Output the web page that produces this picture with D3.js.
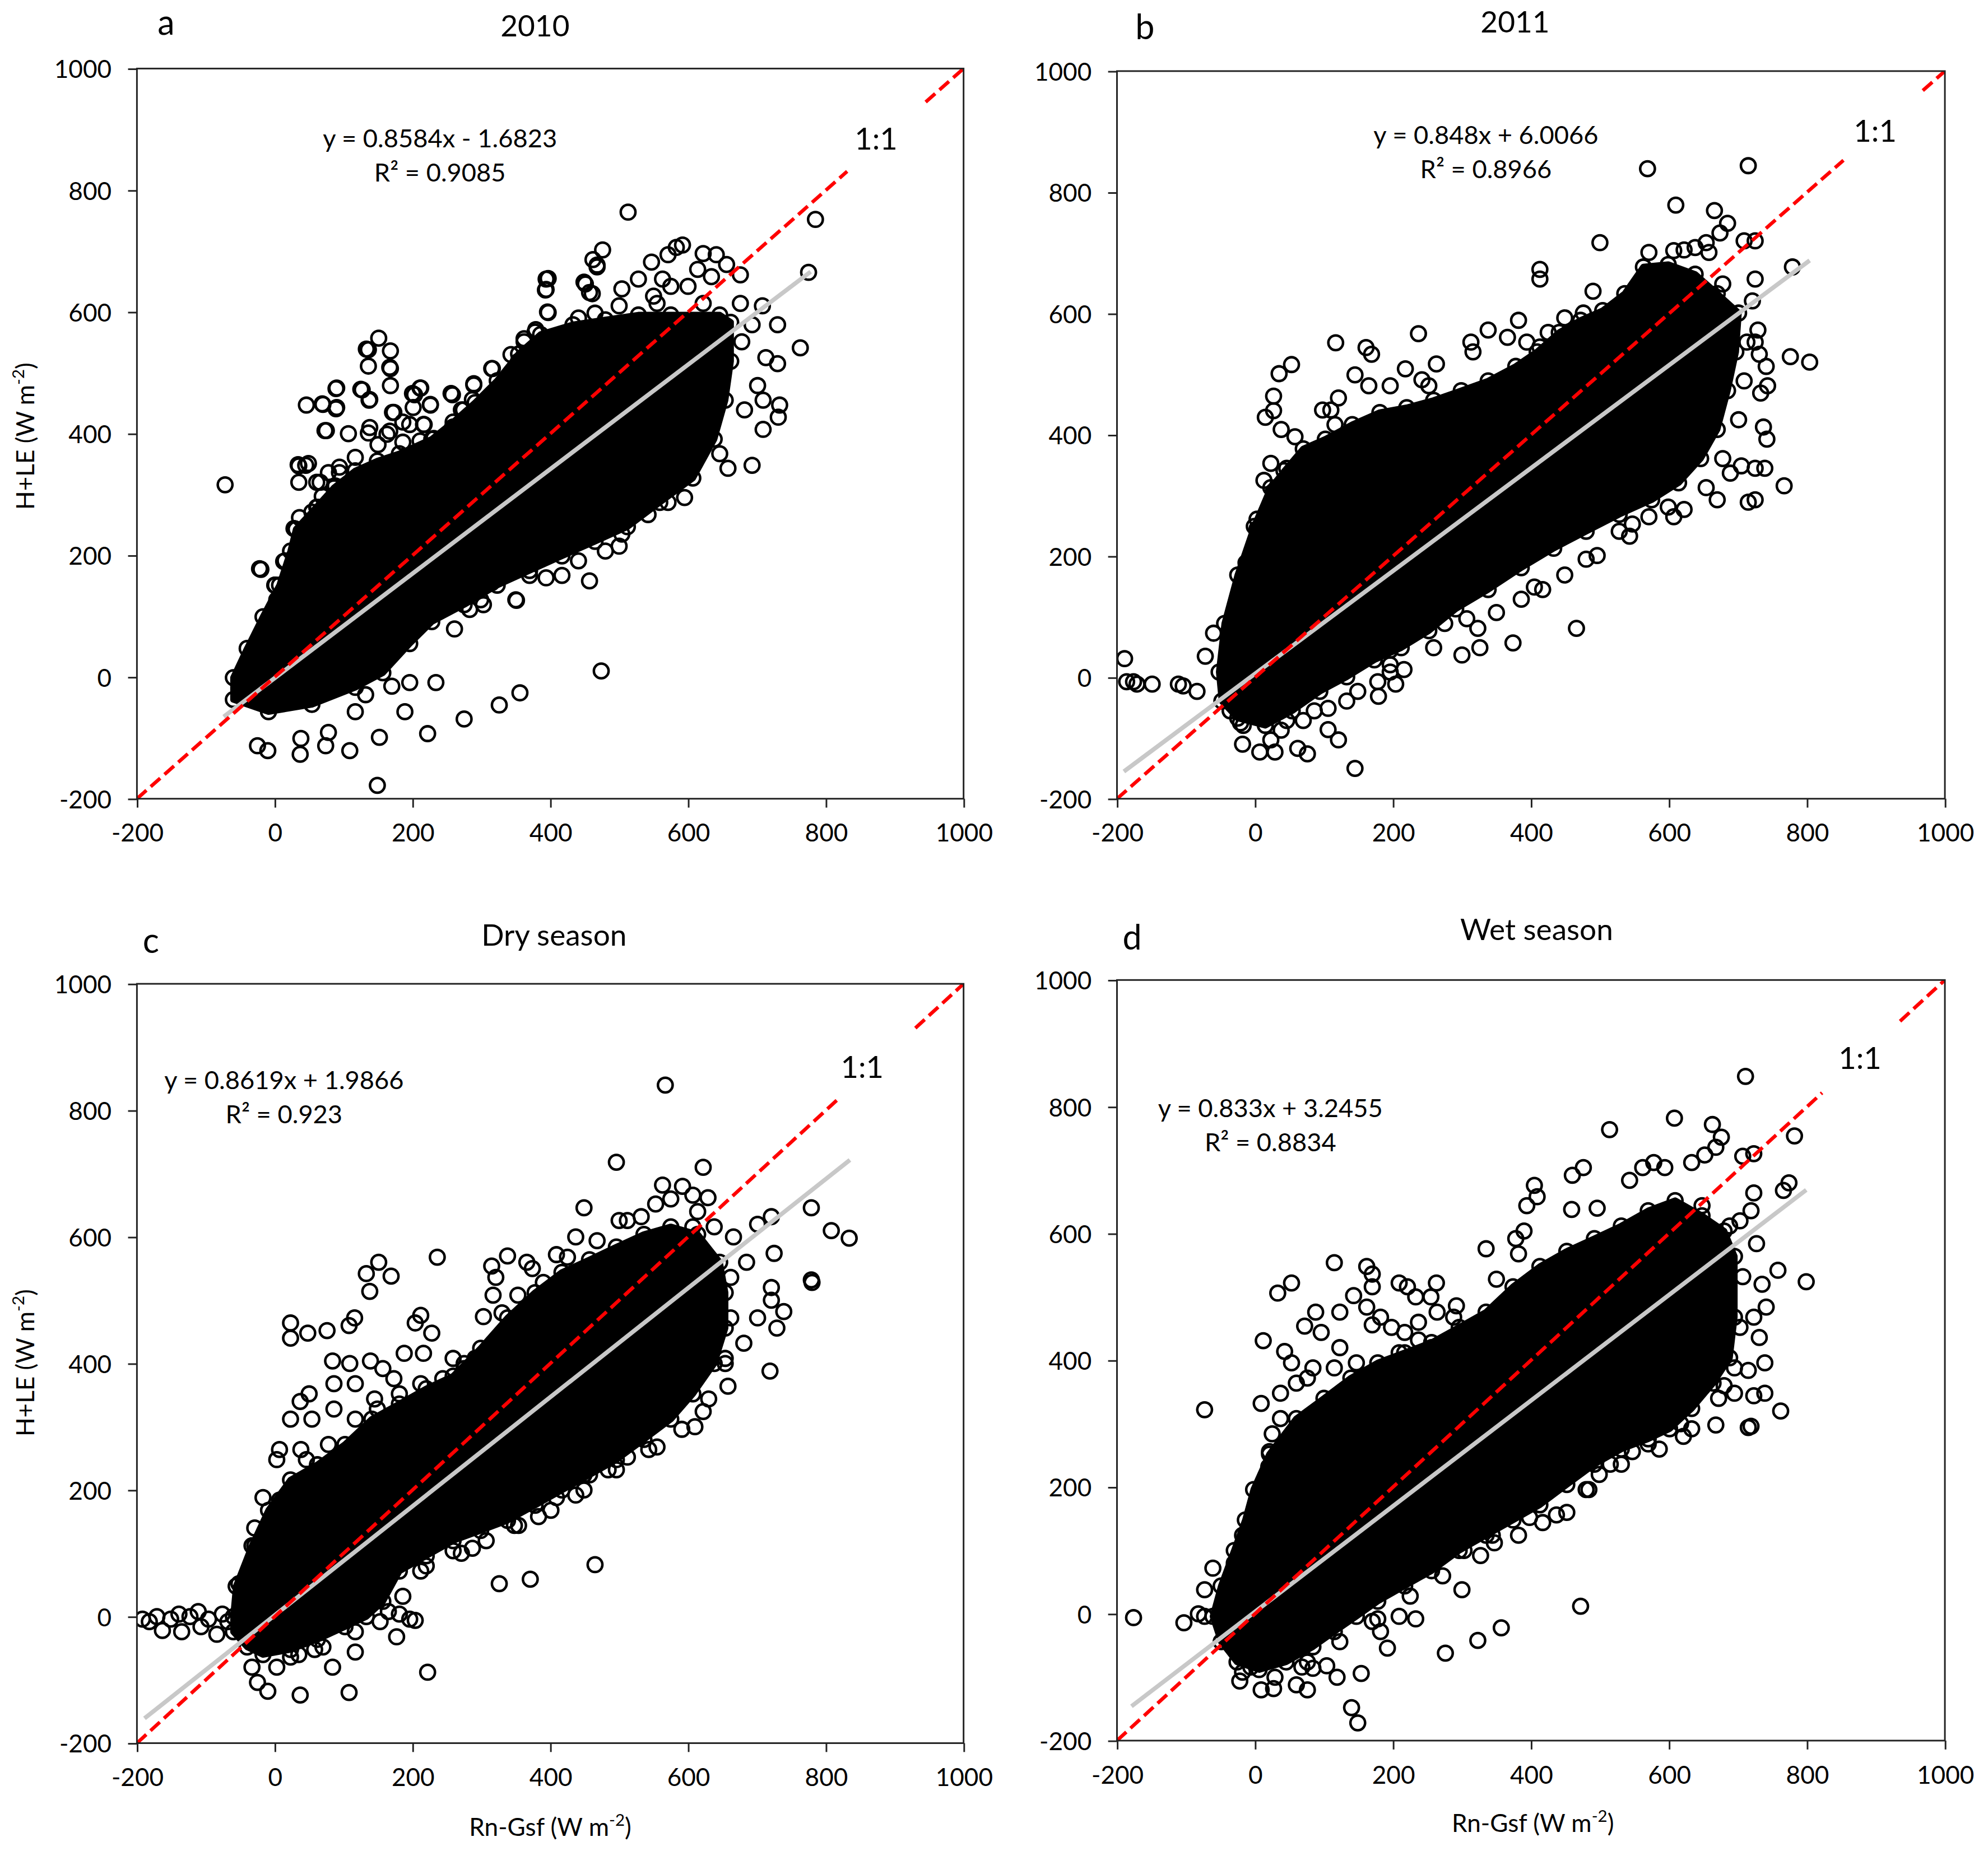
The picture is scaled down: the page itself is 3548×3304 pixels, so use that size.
<!DOCTYPE html>
<html>
<head>
<meta charset="utf-8">
<script src="https://cdn.jsdelivr.net/npm/d3@7"></script>
<style>
  body { margin: 0; background: #fff; }
  text { font-family: Lato, "Open Sans", sans-serif; fill: #000; }
</style>
</head>
<body>
<div id="chart"></div>
<script>
/* data */
var xTicks = [-200, 0, 200, 400, 600, 800, 1000];
var yTicks = [-200, 0, 200, 400, 600, 800, 1000];
var panelIds = ["a", "b", "c", "d"];
var panelTitles = ["2010", "2011", "Dry season", "Wet season"];
var slopes = [0.8584, 0.848, 0.8619, 0.833];
var intercepts = [-1.6823, 6.0066, 1.9866, 3.2455];
var rSquared = [0.9085, 0.8966, 0.923, 0.8834];
var fitStart = [-74, -190, -189, -179];
var fitEnd = [778, 804, 835, 799];

// outline of the solid (saturated) part of each cloud
var coreA = [[-60,-37],[-9,-57],[54,-45],[117,-17],[157,7],[196,55],[228,91],[275,119],[323,151],[370,175],[417,199],[465,223],[512,247],[559,287],[607,327],[638,391],[654,455],[662,519],[662,583],[646,595],[575,595],[528,595],[480,587],[433,579],[386,563],[354,531],[323,487],[291,451],[259,419],[228,391],[181,367],[149,355],[117,339],[86,311],[54,271],[31,243],[23,207],[7,151],[-17,99],[-40,47],[-60,-1]];
var coreB = [[-25,-67],[15,-79],[54,-55],[94,-23],[133,1],[173,29],[212,49],[252,77],[291,113],[338,145],[386,181],[433,213],[480,241],[528,269],[575,293],[614,321],[646,361],[670,409],[685,473],[697,537],[701,601],[670,633],[638,665],[599,681],[563,677],[536,633],[504,605],[472,589],[441,569],[409,537],[378,513],[338,489],[299,473],[259,457],[220,445],[181,437],[141,417],[102,393],[70,377],[46,345],[23,313],[-1,249],[-25,169],[-44,89],[-52,9],[-48,-39]];
var coreC = [[-60,0],[-56,48],[-33,112],[-9,168],[23,216],[62,240],[102,272],[141,312],[181,336],[220,360],[259,380],[299,424],[338,472],[378,512],[417,544],[457,564],[496,584],[536,604],[575,616],[614,604],[646,560],[654,512],[654,456],[638,400],[607,352],[575,312],[536,280],[496,248],[457,224],[417,200],[378,176],[338,152],[299,136],[259,120],[220,96],[181,72],[157,24],[133,0],[102,-16],[62,-36],[23,-52],[-17,-60],[-40,-48],[-60,-24]];
var coreD = [[-61,-4],[-49,44],[-30,100],[-14,148],[-2,196],[21,252],[60,308],[100,340],[139,372],[178,396],[217,412],[256,428],[296,452],[335,476],[374,516],[413,548],[452,572],[492,592],[531,612],[570,636],[609,652],[648,628],[680,604],[695,564],[695,468],[688,404],[664,364],[633,324],[601,292],[570,276],[531,260],[492,236],[452,204],[413,172],[374,148],[335,124],[296,100],[256,68],[217,44],[178,20],[147,-4],[115,-28],[84,-52],[45,-76],[6,-88],[-26,-76],[-49,-44]];

// individual circles around and outside the saturated core
var pointsA = [[-72,316],[-20,177],[149,-178],[152,-99],[109,-121],[-10,-121],[-25,-113],[37,-127],[74,-113],[78,-91],[189,-57],[222,-93],[275,-69],[326,-46],[356,-26],[474,10],[457,158],[351,126],[303,119],[261,79],[234,-9],[196,-9],[170,-15],[132,-29],[117,-57],[38,-101],
  [46,447],[70,448],[90,443],[90,475],[133,539],[151,557],[168,536],[168,507],[136,511],[168,479],[127,472],[137,455],[173,435],[75,405],[107,400],[136,401],[35,347],[45,348],[35,320],[66,320],[94,336],[86,311],[62,279],[212,475],[203,464],[226,448],[258,464],[289,480],[315,507],[259,411],[274,439],[196,415],[216,415],[163,399],[15,191],[0,151],[-13,79],[0,99],[-5,47],
  [136,538],[167,509],[125,473],[138,456],[89,474],[69,449],[89,441],[73,405],[200,466],[211,475],[226,447],[201,443],[256,466],[289,482],[287,456],[271,439],[316,507],[171,435],[186,419],[217,415],[138,410],[167,404],[258,410],[150,382],[186,386],[211,388],[231,392],[117,361],[94,345],[78,336],[34,349],[49,351],[61,320],[88,314],[69,297],[98,289],[117,287],[128,312],[152,340],[177,353],[202,357],[61,279],[36,262],[28,244],[40,229],[-22,178],[13,190],[1,151],[3,127],[-9,86],[350,127],[397,599],[397,655],[393,636],[449,649],[457,632],[468,677],[362,556],[379,571],[343,530],[331,482],[314,451],[296,423],[269,394],[238,369],
  [513,764],[785,752],[775,665],[476,702],[462,686],[468,674],[394,654],[394,637],[451,646],[461,630],[396,600],[547,682],[571,694],[583,706],[592,710],[622,696],[641,694],[656,678],[676,661],[614,670],[634,658],[528,654],[563,654],[575,642],[600,642],[550,626],[555,614],[504,638],[500,610],[676,614],[708,610],[730,579],[693,579],[763,541],[713,525],[730,515],[701,479],[709,455],[733,447],[731,427],[709,407],[693,348],[658,343],[682,439],[678,551],[622,614],[378,567],[362,551],[354,519],[441,590],[465,598],[646,367],[595,295],[571,287],[542,267],[504,235],[500,215],[480,207],[441,191],[417,167],[394,163],[370,167],[315,155],[299,127],[283,111]];
var pointsB = [[-189,31],[-186,-7],[-176,-7],[-171,-11],[-149,-11],[-111,-11],[-104,-14],[-84,-23],[-72,35],[-60,73],[-25,121],[-13,189],[3,261],[3,245],[13,325],[23,233],[27,307],[42,341],[38,409],[58,397],[27,464],[15,429],[27,440],[35,501],[53,516],[117,552],[161,544],[169,533],[237,567],[145,499],[165,481],[110,441],[98,441],[121,461],[116,417],[141,401],[196,481],[218,509],[242,491],[263,517],[252,481],[313,553],[316,537],[338,573],[366,561],[382,589],[394,553],[413,545],[425,569],[449,593],[476,601],[490,637],[500,717],[413,673],[413,657],[569,839],[715,844],[610,779],[666,770],[685,749],[674,733],[654,717],[709,720],[725,720],[571,701],[607,704],[622,705],[638,709],[658,701],[779,677],[725,657],[721,621],[729,573],[725,553],[731,533],[741,513],[743,481],[776,529],[804,520],[733,469],[737,413],[742,393],[689,337],[705,349],[725,345],[739,345],[767,316],[670,293],[715,289],[725,293],[622,277],[599,281],[571,265],[547,253],[528,241],[480,195],[466,81],[417,145],[405,149],[374,57],[326,49],[300,37],[275,89],[228,73],[196,45],[216,13],[196,21],[178,-7],[204,-11],[179,-31],[133,-39],[106,-51],[145,-150],[106,-86],[121,-103],[62,-117],[76,-126],[29,-123],[7,-123],[-18,-110],[23,-103],[70,-71],[46,-71],[-21,-75],[-36,-55],[259,113],[307,97],[350,107],
  [23,353],[54,337],[78,361],[102,345],[133,369],[165,393],[196,401],[228,417],[259,425],[62,297],[94,313],[31,273],[291,441],[330,457],[370,473],[401,505],[441,537],[480,553],[520,585],[559,601],[678,649],
  [-17,-79],[38,-87],[86,-55],[149,-23],[196,9],[259,49],[323,81],[386,129],[449,169],[496,201],[543,233],[607,265],[654,313],[678,361],[701,425],[709,489],[713,553]];
var pointsC = [[-192,-4],[-182,-8],[-171,0],[-163,-22],[-151,-4],[-139,4],[-135,-24],[-123,0],[-111,8],[-107,-16],[-96,-4],[-84,-28],[-76,4],[-68,-8],[-52,52],[-29,112],[-29,140],[-17,188],[3,248],[7,264],[35,208],[38,264],[23,312],[37,340],[50,352],[86,368],[84,404],[109,400],[139,404],[157,392],[117,368],[145,344],[173,376],[188,416],[216,416],[228,448],[204,464],[212,476],[259,408],[275,400],[291,408],[23,464],[23,440],[48,448],[76,452],[108,460],[116,472],[133,542],[151,560],[169,538],[138,514],[236,568],[303,474],[315,554],[321,536],[338,570],[366,560],[374,550],[330,480],[317,508],[353,508],[390,528],[409,572],[425,568],[449,646],[437,600],[468,594],[496,718],[500,626],[512,626],[532,632],[563,682],[592,680],[607,666],[622,710],[629,662],[553,652],[575,660],[614,640],[638,616],[666,600],[685,560],[701,620],[721,632],[725,574],[779,646],[808,610],[834,598],[779,532],[780,528],[721,520],[721,500],[739,482],[729,456],[701,472],[681,432],[654,400],[658,364],[719,388],[622,324],[610,300],[555,268],[512,252],[484,232],[449,224],[437,192],[409,188],[383,158],[348,144],[287,108],[271,100],[220,80],[465,82],[371,59],[326,52],[222,-88],[186,32],[151,36],[181,4],[196,-4],[204,-6],[153,-8],[177,-32],[117,-56],[84,-80],[108,-120],[37,-124],[-10,-118],[-25,-104],[-33,-80],[3,-80],[35,-60],[58,-52],[567,840],
  [54,312],[86,328],[117,312],[149,328],[181,352],[212,368],[244,376],[275,392],[307,416],[338,440],[370,472],[401,504],[441,536],[480,552],[520,576],[559,600],[607,616],[46,248],[78,272],[7,184],[-9,136],[-33,72],
  [23,-64],[70,-48],[117,-24],[165,8],[212,72],[259,104],[307,120],[354,144],[401,168],[449,200],[496,232],[543,264],[591,296],[630,344],[654,408],[662,472],[662,536]];
var pointsD = [[-176,-6],[-103,-14],[-82,0],[-73,-4],[-73,322],[-61,72],[-73,38],[-30,80],[-18,124],[2,158],[13,192],[21,256],[20,232],[25,284],[37,308],[9,332],[37,348],[53,396],[43,414],[12,431],[33,506],[53,522],[72,454],[88,476],[96,444],[115,554],[123,476],[143,502],[162,548],[170,536],[170,516],[162,484],[170,456],[182,468],[209,522],[221,516],[233,500],[263,522],[255,500],[292,486],[264,476],[237,460],[217,444],[198,452],[123,420],[115,388],[84,388],[60,364],[76,372],[147,396],[209,412],[237,432],[256,420],[288,468],[335,576],[378,592],[382,568],[350,528],[394,644],[405,676],[409,658],[390,604],[460,692],[476,704],[459,638],[496,640],[514,764],[543,684],[562,704],[578,712],[594,704],[608,782],[633,712],[652,724],[663,772],[676,752],[668,736],[711,848],[707,722],[723,726],[782,754],[774,680],[766,668],[723,664],[719,636],[703,620],[727,584],[758,542],[799,524],[735,520],[741,484],[723,468],[731,436],[739,396],[715,384],[739,348],[723,344],[695,348],[680,360],[762,320],[668,298],[715,294],[719,296],[621,280],[617,300],[570,268],[547,256],[515,236],[499,220],[480,196],[452,160],[417,144],[398,152],[344,124],[347,112],[303,100],[472,12],[300,38],[357,-22],[323,-42],[276,-62],[233,-8],[209,-4],[178,-8],[182,-28],[192,-54],[154,-94],[119,-100],[104,-82],[140,-148],[149,-172],[76,-120],[60,-112],[27,-118],[9,-120],[-22,-106],[-6,-84],[68,-84],[84,-86],
  [37,260],[68,292],[100,324],[131,348],[162,372],[194,388],[225,404],[272,420],[319,452],[366,484],[413,516],[460,556],[507,580],[554,612],[601,636],[648,644],[688,612],[21,220],[6,180],
  [-18,-92],[29,-100],[76,-76],[123,-44],[170,-12],[225,28],[272,60],[327,92],[382,124],[437,156],[484,196],[531,236],[586,260],[633,292],[672,340],[695,388],[703,452],[707,532]];

var cores = [coreA, coreB, coreC, coreD];
var points = [pointsA, pointsB, pointsC, pointsD];

/* layout, in viewBox units */
var W = 1568, H = 1460;
var frames = [[108, 54, 760, 630], [881, 56, 1534, 630], [108, 776, 760, 1375], [881, 773, 1534, 1373]];
var titlePos = [[422, 28.5], [1195, 25.5], [437, 746], [1212, 741.5]];
var letterPos = [[131, 27.5], [903, 31], [119, 751.5], [893, 749]];
var eqPos = [[347, 116], [1172, 113.5], [224, 859], [1002, 881]];
var onePos = [[691, 118], [1479, 111.6], [680, 850], [1467, 843]];
var oneGap = [[831, 945], [853, 968], [820, 930], [822, 935]];
var markerR = 5.8;

var svg = d3.select("#chart").append("svg")
    .attr("width", 3548)
    .attr("height", 3304)
    .attr("viewBox", "0 0 " + W + " " + H);

svg.append("rect").attr("width", W).attr("height", H).attr("fill", "#fff");

panelIds.forEach(function (id, i) {
    var f = frames[i];
    var x = d3.scaleLinear().domain([-200, 1000]).range([f[0], f[2]]);
    var y = d3.scaleLinear().domain([-200, 1000]).range([f[3], f[1]]);
    var g = svg.append("g").attr("class", "panel-" + id);

    g.append("clipPath").attr("id", "clip-" + id)
        .append("rect")
        .attr("x", f[0]).attr("y", f[1])
        .attr("width", f[2] - f[0]).attr("height", f[3] - f[1]);

    var plot = g.append("g").attr("clip-path", "url(#clip-" + id + ")");

    var line = d3.line()
        .x(function (d) { return x(d[0]); })
        .y(function (d) { return y(d[1]); });

    // saturated core of the cloud
    plot.append("path")
        .datum(cores[i])
        .attr("d", line.curve(d3.curveLinearClosed))
        .attr("fill", "#000")
        .attr("stroke", "#000")
        .attr("stroke-width", 5)
        .attr("stroke-linejoin", "round");

    // the core's edge points and the loose points are all drawn as open circles
    plot.selectAll("circle.pt")
        .data(cores[i].concat(points[i]))
        .enter().append("circle")
        .attr("class", "pt")
        .attr("cx", function (d) { return x(d[0]); })
        .attr("cy", function (d) { return y(d[1]); })
        .attr("r", markerR)
        .attr("fill", "none")
        .attr("stroke", "#000")
        .attr("stroke-width", 2);

    // linear trend line
    var fit = [fitStart[i], fitEnd[i]].map(function (v) {
        return [v, slopes[i] * v + intercepts[i]];
    });
    plot.append("path")
        .datum(fit)
        .attr("d", line.curve(d3.curveLinear))
        .attr("stroke", "#c8c8c8")
        .attr("stroke-width", 3.4)
        .attr("fill", "none");

    // 1:1 line, broken where its label sits
    var segs = [[[-200, -200], [oneGap[i][0], oneGap[i][0]]],
                [[oneGap[i][1], oneGap[i][1]], [1000, 1000]]];
    plot.selectAll("path.one")
        .data(segs)
        .enter().append("path")
        .attr("class", "one")
        .attr("d", line)
        .attr("stroke", "#ff0000")
        .attr("stroke-width", 2.8)
        .attr("stroke-dasharray", "10,4.5")
        .attr("fill", "none");

    // frame
    g.append("rect")
        .attr("x", f[0]).attr("y", f[1])
        .attr("width", f[2] - f[0]).attr("height", f[3] - f[1])
        .attr("fill", "none")
        .attr("stroke", "#222")
        .attr("stroke-width", 1.3);

    var fmt = function (d) { return String(d); };
    var xAxis = g.append("g")
        .attr("transform", "translate(0," + f[3] + ")")
        .call(d3.axisBottom(x).tickValues(xTicks).tickFormat(fmt).tickSize(7).tickPadding(13).tickSizeOuter(0));
    var yAxis = g.append("g")
        .attr("transform", "translate(" + f[0] + ",0)")
        .call(d3.axisLeft(y).tickValues(yTicks).tickFormat(fmt).tickSize(7).tickPadding(13).tickSizeOuter(0));
    [xAxis, yAxis].forEach(function (a) {
        a.select(".domain").remove();
        a.selectAll("line").attr("stroke", "#222").attr("stroke-width", 1.3);
        a.selectAll("text")
            .attr("fill", "#000")
            .style("font-family", "Lato, 'Open Sans', sans-serif")
            .style("font-size", "19.5px");
    });
    yAxis.selectAll("text").attr("dy", "0.36em");

    // equation and R²
    var b = intercepts[i];
    var eq = "y = " + slopes[i] + "x " + (b < 0 ? "- " : "+ ") + Math.abs(b);
    g.append("text")
        .attr("x", eqPos[i][0]).attr("y", eqPos[i][1])
        .attr("text-anchor", "middle")
        .style("font-size", "20px")
        .text(eq);
    g.append("text")
        .attr("x", eqPos[i][0]).attr("y", eqPos[i][1] + 27)
        .attr("text-anchor", "middle")
        .style("font-size", "20px")
        .text("R\u00b2 = " + rSquared[i]);

    g.append("text")
        .attr("x", onePos[i][0]).attr("y", onePos[i][1])
        .attr("text-anchor", "middle")
        .style("font-size", "24px")
        .text("1:1");

    g.append("text")
        .attr("x", titlePos[i][0]).attr("y", titlePos[i][1])
        .attr("text-anchor", "middle")
        .style("font-size", "23.5px")
        .text(panelTitles[i]);

    g.append("text")
        .attr("x", letterPos[i][0]).attr("y", letterPos[i][1])
        .attr("text-anchor", "middle")
        .style("font-size", "27px")
        .text(id);
});

// axis titles
function unitLabel(sel, name) {
    sel.append("tspan").text(name + " (W m");
    sel.append("tspan").attr("dy", -8).style("font-size", "13px").text("-2");
    sel.append("tspan").attr("dy", 8).text(")");
}

[[27, 344], [27, 1075]].forEach(function (p) {
    var t = svg.append("text")
        .attr("transform", "translate(" + p[0] + "," + p[1] + ") rotate(-90)")
        .attr("text-anchor", "middle")
        .style("font-size", "19.5px");
    unitLabel(t, "H+LE");
});

[[434, 1448], [1209, 1445]].forEach(function (p) {
    var t = svg.append("text")
        .attr("x", p[0]).attr("y", p[1])
        .attr("text-anchor", "middle")
        .style("font-size", "19.5px");
    unitLabel(t, "Rn-Gsf");
});
</script>
</body>
</html>
